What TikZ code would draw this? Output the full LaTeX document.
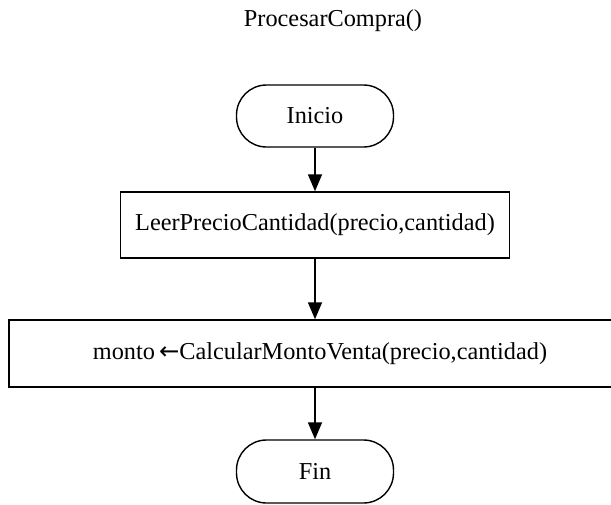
\documentclass[tikz,border=0pt]{standalone}
\usepackage{fontspec}
\setmainfont{Liberation Serif}
\newfontfamily\symfont{DejaVu Sans}
\usetikzlibrary{arrows.meta}
\begin{document}
\begin{tikzpicture}[x=1pt,y=-1pt,
  every node/.style={font=\fontsize{24.3}{28}\selectfont, inner sep=0pt},
  term/.style={draw, line width=1.4pt, rounded corners=30pt, minimum width=157pt, minimum height=62pt},
  proc/.style={draw, line width=1.4pt, minimum height=66pt},
  flow/.style={line width=1.4pt, -{Triangle[width=14pt,length=17pt]}}]
\useasboundingbox (0,0) rectangle (611,504);
\node (title) at (333,21) {ProcesarCompra()};
\node[term] (inicio) at (315,116) {Inicio};
\node[proc, minimum width=389pt] (leer) at (315,225) {LeerPrecioCantidad(precio,cantidad)};
\node[proc, minimum width=622pt, minimum height=67pt] (calc) at (320,353.5) {monto\hspace{4pt}{\symfont ←}CalcularMontoVenta(precio,cantidad)};
\node[term, minimum height=63pt] (fin) at (315,471.5) {Fin};
\draw[flow] (inicio.south) -- (leer.north);
\draw[flow] (leer.south) -- (leer.south |- calc.north);
\draw[flow] (leer.south |- calc.south) -- (fin.north);
\end{tikzpicture}
\end{document}
